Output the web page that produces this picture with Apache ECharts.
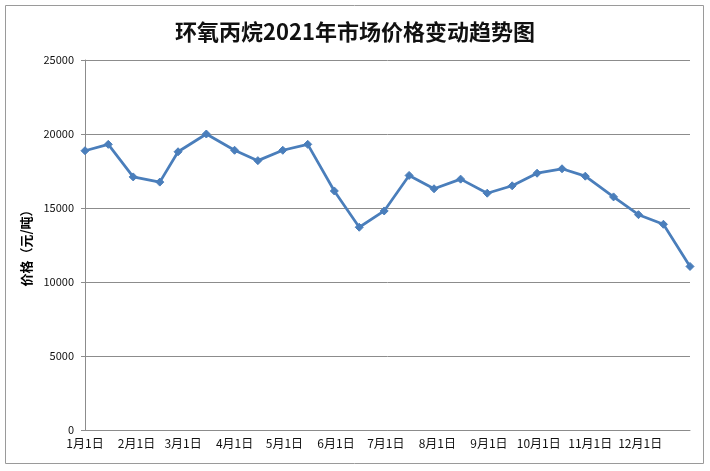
<!DOCTYPE html>
<html>
<head>
<meta charset="utf-8">
<script src="https://cdn.jsdelivr.net/npm/echarts@6/dist/echarts.min.js"></script>
<style>
html,body{margin:0;padding:0;background:#fff;}
#main{width:710px;height:471px;}
</style>
</head>
<body>
<div id="main"></div>
<script>
// ---- data ----
var titleText = '环氧丙烷2021年市场价格变动趋势图';
var yAxisName = '价格（元/吨）';
var dates = ['2021-01-01','2021-01-15','2021-01-30','2021-02-15','2021-02-26','2021-03-15',
  '2021-04-01','2021-04-15','2021-04-30','2021-05-15','2021-05-31','2021-06-15',
  '2021-06-30','2021-07-15','2021-07-30','2021-08-15','2021-08-31','2021-09-15',
  '2021-09-30','2021-10-15','2021-10-29','2021-11-15','2021-11-30','2021-12-15','2021-12-31'];
var prices = [18870,19300,17100,16750,18800,20000,18900,18200,18900,19300,16150,13700,
  14800,17200,16300,16950,16000,16500,17350,17650,17150,15750,14550,13900,11050];
var monthTicks = ['2021-01-01','2021-02-01','2021-03-01','2021-04-01','2021-05-01','2021-06-01',
  '2021-07-01','2021-08-01','2021-09-01','2021-10-01','2021-11-01','2021-12-01'];
var axisStart = '2021-01-01';
var axisEnd = '2021-12-31';
var yTicks = [0,5000,10000,15000,20000,25000];

function ts(s){ var p = s.split('-'); return Date.UTC(+p[0], +p[1]-1, +p[2]); }

var chart = echarts.init(document.getElementById('main'), null, {renderer:'canvas'});
var fontCJK = '"Noto Sans CJK SC", "Noto Sans", sans-serif';
var option = {
  animation: false,
  backgroundColor: '#fff',
  title: {
    text: titleText,
    left: 'center',
    top: 16,
    textStyle: {fontFamily: fontCJK, fontSize: 22, fontWeight: 'bold', color: '#111'}
  },
  graphic: [{
    type: 'rect',
    shape: {x: 5.5, y: 5.5, width: 698, height: 458},
    style: {fill: 'none', stroke: '#9a9a9a', lineWidth: 1},
    silent: true
  }],
  grid: {left: 85, right: 20, top: 60, bottom: 41, containLabel: false},
  xAxis: {
    type: 'value',
    min: ts(axisStart),
    max: ts(axisEnd),
    axisLine: {show: true, onZero: false, lineStyle: {color: '#8c8c8c', width: 1}},
    axisTick: {show: false},
    splitLine: {show: false},
    axisLabel: {
      customValues: monthTicks.map(ts),
      formatter: function(v){ var d = new Date(v); return (d.getUTCMonth()+1) + '月' + d.getUTCDate() + '日'; },
      fontFamily: fontCJK, fontSize: 12, color: '#111', margin: 7,
      hideOverlap: false
    }
  },
  yAxis: {
    type: 'value',
    min: yTicks[0], max: yTicks[yTicks.length-1], interval: 5000,
    name: yAxisName,
    nameLocation: 'middle',
    nameGap: 52,
    nameRotate: 90,
    nameTextStyle: {fontFamily: fontCJK, fontSize: 13, fontWeight: 'bold', color: '#000'},
    axisLine: {show: true, lineStyle: {color: '#8c8c8c', width: 1}},
    axisTick: {show: true, length: 4, lineStyle: {color: '#8c8c8c'}},
    splitLine: {show: true, lineStyle: {color: '#8c8c8c', width: 1}},
    axisLabel: {
      formatter: function(v){ return String(v); },
      fontFamily: fontCJK, fontSize: 11, color: '#111', margin: 11
    }
  },
  series: [{
    type: 'line',
    data: dates.map(function(d, i){ return [ts(d), prices[i]]; }),
    symbol: 'diamond',
    symbolSize: 8,
    showAllSymbol: true,
    lineStyle: {color: '#4A7EBB', width: 2.75},
    itemStyle: {color: '#4A7EBB', borderColor: '#4A7EBB'},
    z: 3
  }]
};
chart.setOption(option);
</script>
</body>
</html>
